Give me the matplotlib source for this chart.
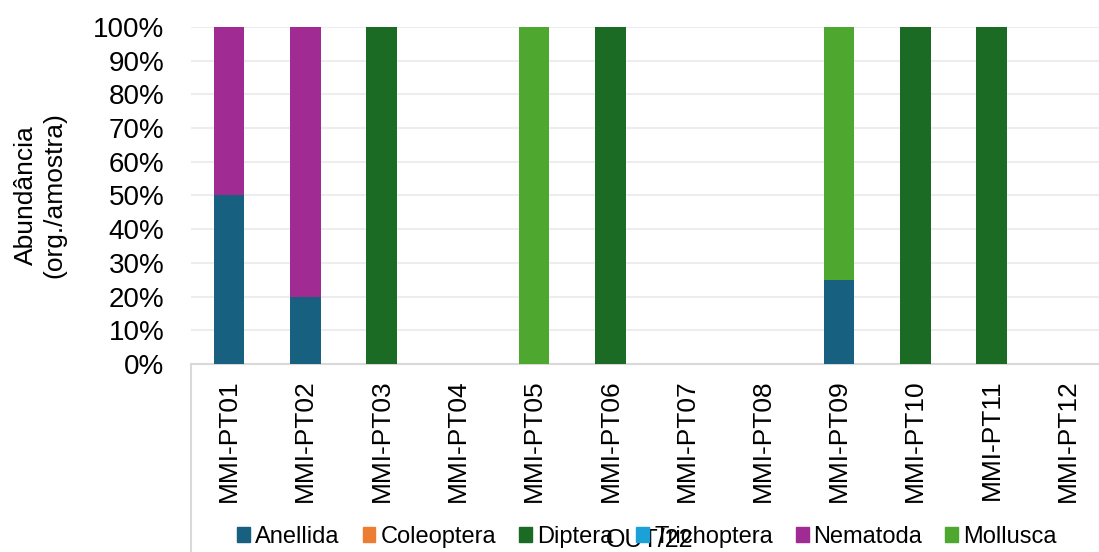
import matplotlib
matplotlib.use("Agg")
import matplotlib.pyplot as plt
from matplotlib.lines import Line2D
import numpy as np

plt.rcParams['font.family'] = ['Liberation Sans', 'DejaVu Sans']

categories = ["MMI-PT01", "MMI-PT02", "MMI-PT03", "MMI-PT04", "MMI-PT05", "MMI-PT06",
              "MMI-PT07", "MMI-PT08", "MMI-PT09", "MMI-PT10", "MMI-PT11", "MMI-PT12"]
group_label = "OUT/22"
series_names = ["Anellida", "Coleoptera", "Diptera", "Trichoptera", "Nematoda", "Mollusca"]
anellida    = [0.50, 0.20, 0, 0, 0, 0, 0, 0, 0.25, 0, 0, 0]
coleoptera  = [0, 0, 0, 0, 0, 0, 0, 0, 0, 0, 0, 0]
diptera     = [0, 0, 1.00, 0, 0, 1.00, 0, 0, 0, 1.00, 1.00, 0]
trichoptera = [0, 0, 0, 0, 0, 0, 0, 0, 0, 0, 0, 0]
nematoda    = [0.50, 0.80, 0, 0, 0, 0, 0, 0, 0, 0, 0, 0]
mollusca    = [0, 0, 0, 0, 1.00, 0, 0, 0, 0.75, 0, 0, 0]
colors = ["#17607F", "#ED7D31", "#1B6B24", "#1BA1D8", "#A02B93", "#4EA72E"]

series = [anellida, coleoptera, diptera, trichoptera, nematoda, mollusca]

fig = plt.figure(figsize=(10.99, 5.52), dpi=100)
ax = fig.add_axes([191/1099, 188/552, 915/1099, 337/552])

x = np.arange(len(categories))
bottom = np.zeros(len(categories))
for name, vals, c in zip(series_names, series, colors):
    v = np.array(vals, dtype=float)
    ax.bar(x, v, width=0.4, bottom=bottom, color=c, linewidth=0,
           label=name, zorder=3)
    bottom += v

ax.set_xlim(-0.5, len(categories) - 0.5)
ax.set_ylim(0, 1)
ticks = np.arange(0, 1.01, 0.1)
ax.set_yticks(ticks)
ax.set_yticklabels([f"{int(round(t*100))}%" for t in ticks], fontsize=20)
ax.set_xticks(x)
ax.set_xticklabels(categories, rotation=90, fontsize=19, va="top", ha="center")
ax.tick_params(axis="y", length=0, pad=19)
ax.tick_params(axis="x", length=0, pad=11)
ax.grid(axis="y", color="#EDEDED", linewidth=1.5, zorder=0)
for s in ["top", "right", "left"]:
    ax.spines[s].set_visible(False)
ax.spines["bottom"].set_color("#D9D9D9")
ax.spines["bottom"].set_linewidth(1.5)

# left border of category axis box
fig.add_artist(Line2D([191/1099, 191/1099], [0, 188/552], color="#D9D9D9", linewidth=1.5))

fig.text(40/1099, 357/552, "Abundância\n(org./amostra)", rotation=90, ha="center", va="center",
         fontsize=19, multialignment="center")

handles = [plt.Rectangle((0, 0), 1, 1, color=c) for c in colors]
fig.legend(handles, series_names, loc="center", bbox_to_anchor=(647/1099, 15/552), ncol=6,
           frameon=False, fontsize=17, handlelength=0.55, handleheight=0.6,
           handletextpad=0.21, columnspacing=0.97, borderaxespad=0, borderpad=0)

fig.text(650/1099, 5/552, group_label, ha="center", va="baseline", fontsize=18)

fig.savefig("out.png", dpi=100)
